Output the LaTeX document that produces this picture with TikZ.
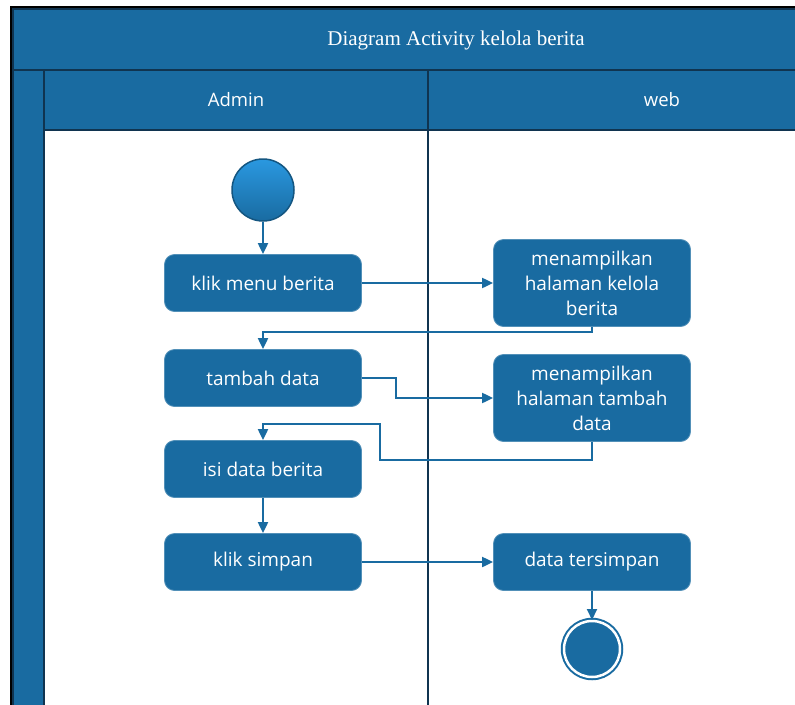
\documentclass[tikz,border=0pt]{standalone}
\usepackage{fontspec}
\setmainfont{Open Sans}
\newfontfamily\titlefont{Liberation Serif}
\usetikzlibrary{arrows.meta}
\definecolor{laneblue}{RGB}{25,107,161}
\definecolor{lanedark}{RGB}{16,52,80}
\definecolor{startlight}{RGB}{42,152,224}
\tikzset{
  action/.style={rectangle, rounded corners=10pt, fill=laneblue,
    draw=laneblue!75!white, line width=0.8pt, text=white,
    minimum width=197pt, minimum height=57pt, align=center,
    inner sep=0pt, font=\fontsize{19}{25}\selectfont},
  tallaction/.style={action, minimum height=87pt},
  flow/.style={draw=laneblue, line width=2pt,
    -{Triangle[length=11pt,width=10pt]}},
  lane/.style={draw=lanedark, line width=2pt},
  lanetext/.style={text=white, font=\fontsize{18.5}{22}\selectfont},
  initial/.style={circle, minimum size=62pt, top color=startlight,
    bottom color=laneblue, draw=laneblue!80!black, line width=1.5pt},
  final/.style={circle, minimum size=56pt, inner sep=0pt, fill=laneblue,
    draw=laneblue, double=white, double distance=2.5pt, line width=2pt}
}
\begin{document}
\begin{tikzpicture}[x=1pt, y=-1pt]
  \useasboundingbox (0,0) rectangle (795,704);
  \clip (0,0) rectangle (795,704);
  % swimlane frame
  \fill[white] (0,0) rectangle (795,704);
  \fill[laneblue] (12,8) rectangle (800,130);
  \fill[laneblue] (12,8) rectangle (44,710);
  \draw[black, line width=1.5pt] (11,710) -- (11,7) -- (800,7);
  \draw[lane] (13,9) rectangle (800,710);
  \draw[lane] (13,70) -- (800,70);
  \draw[lane] (44,130) -- (800,130);
  \draw[lane] (44,70) -- (44,710);
  \draw[lane] (428,70) -- (428,710);
  \node[text=white, font=\titlefont\fontsize{21}{24}\selectfont] (title) at (456,40)
    {Diagram Activity kelola berita};
  \node[lanetext] (admin) at (236,100) {Admin};
  \node[lanetext] (web) at (662,100) {web};
  % activities
  \node[initial] (start) at (263,190) {};
  \node[action] (klik) at (263,283) {klik menu berita};
  \node[tallaction] (tampil1) at (592,283) {menampilkan\\halaman kelola\\berita};
  \node[action] (tambah) at (263,378) {tambah data};
  \node[tallaction] (tampil2) at (592,398) {menampilkan\\halaman tambah\\data};
  \node[action] (isi) at (263,469) {isi data berita};
  \node[action] (simpan) at (263,562) {klik simpan};
  \node[action] (tersimpan) at (592,562) {data tersimpan};
  \node[final] (end) at (592,649) {};
  % transitions
  \begin{scope}[flow]
    \draw (start) -- (klik);
    \draw (klik.east) -- (klik.east -| tampil1.west);
    \draw (tampil1.south) -- ++(0,5) -| (tambah.north);
    \draw (tambah.east) -- ++(34,0) |- (tampil2.west);
    \draw (tampil2.south) -- ++(0,18) -| ++(-212,-36) -| (isi.north);
    \draw (isi) -- (simpan);
    \draw (simpan) -- (tersimpan);
    \draw (tersimpan) -- (end);
  \end{scope}
\end{tikzpicture}
\end{document}
